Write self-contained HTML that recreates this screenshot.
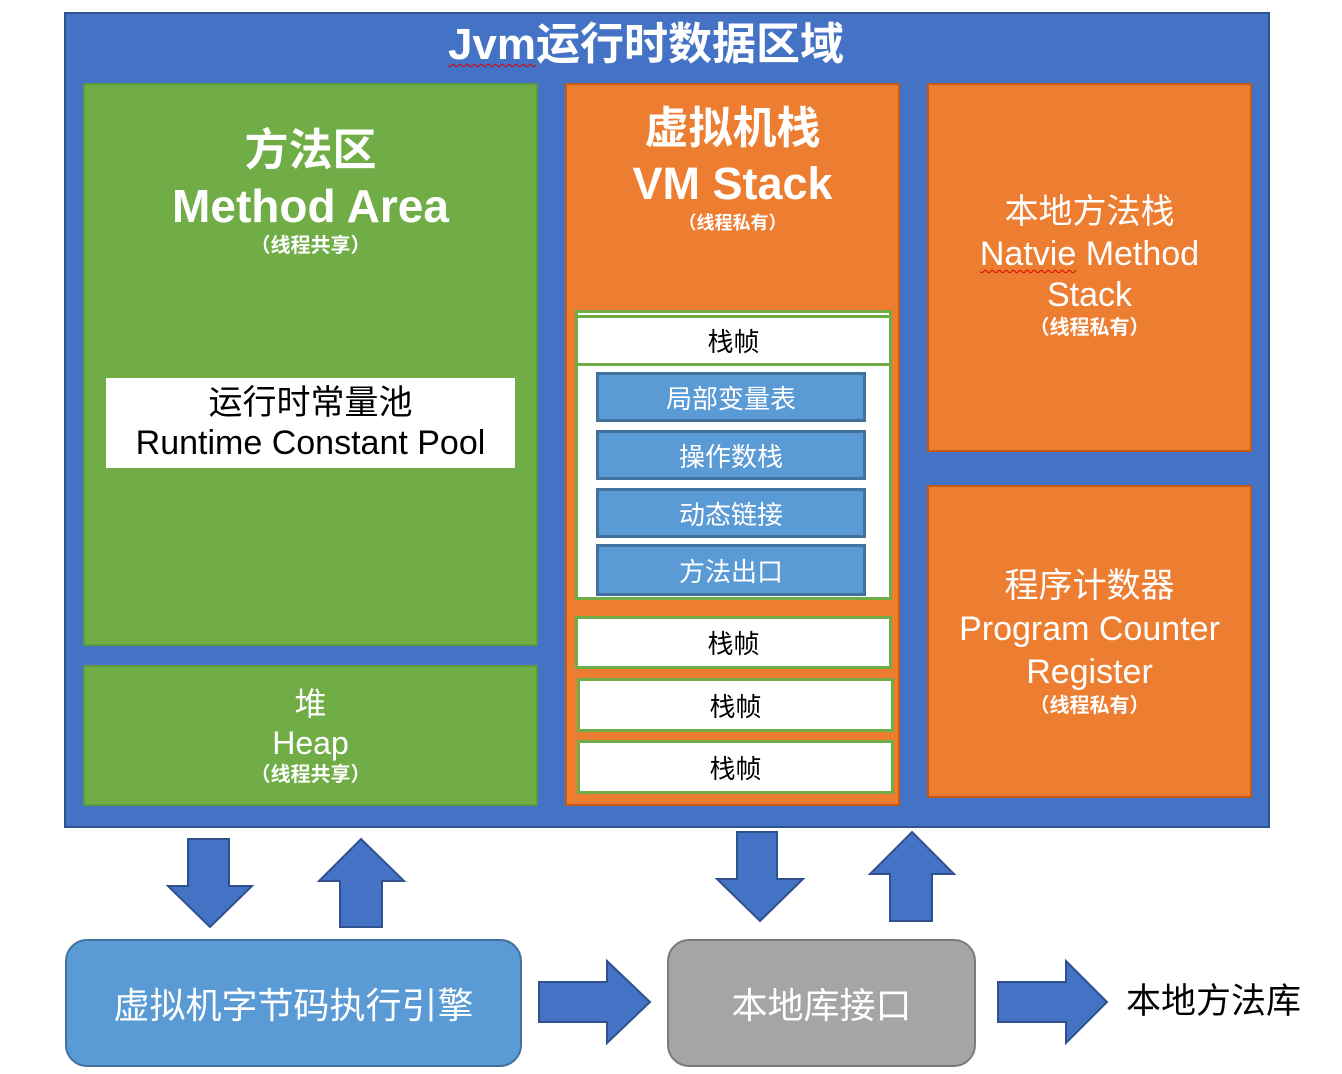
<!DOCTYPE html>
<html><head><meta charset="utf-8"><style>
*{margin:0;padding:0;box-sizing:border-box}
body{width:1342px;height:1074px;background:#fff;position:relative;overflow:hidden;font-family:"Liberation Sans","Noto Sans CJK SC",sans-serif}
.a{position:absolute}
.c{display:flex;flex-direction:column;align-items:center;justify-content:center;text-align:center}
.w{color:#fff}
.sm{font-size:20px;font-weight:bold;line-height:26px}
.frame{background:#fff;border:3px solid #70ad47;font-size:26px;color:#000}
.blue{background:#5b9bd5;border:3px solid #41719c;color:#fff;font-size:26px}
.wv{text-decoration:underline wavy #e00000;text-decoration-thickness:1px;text-underline-offset:4px}
</style></head><body>
<div class="a" style="left:64px;top:12px;width:1206px;height:816px;background:#4472c4;border:2px solid #2f528f"></div>
<div class="a w" style="left:0;top:15px;width:1292px;text-align:center;font-size:44px;font-weight:bold;line-height:60px"><span class="wv">Jvm</span>运行时数据区域</div>

<div class="a c w" style="left:83px;top:83px;width:455px;height:563px;background:#70ad47;border:2px solid #5f9a3a;justify-content:flex-start;padding-top:38px">
<div style="font-size:44px;font-weight:bold;line-height:56px">方法区</div>
<div style="font-size:46px;font-weight:bold;line-height:54px">Method Area</div>
<div class="sm">（线程共享）</div>
</div>
<div class="a c" style="left:106px;top:378px;width:409px;height:90px;background:#fff;font-size:34px;line-height:40px;color:#000">运行时常量池<br>Runtime Constant Pool</div>

<div class="a c w" style="left:83px;top:665px;width:455px;height:141px;background:#70ad47;border:2px solid #5f9a3a">
<div style="font-size:32px;line-height:40px">堆</div>
<div style="font-size:32px;line-height:38px">Heap</div>
<div class="sm">（线程共享）</div>
</div>

<div class="a c w" style="left:565px;top:83px;width:335px;height:723px;background:#ed7d31;border:2px solid #c55a11;justify-content:flex-start;padding-top:16px">
<div style="font-size:44px;font-weight:bold;line-height:56px">虚拟机栈</div>
<div style="font-size:45px;font-weight:bold;line-height:54px">VM Stack</div>
<div style="font-size:18px;font-weight:bold;line-height:24px">（线程私有）</div>
</div>
<div class="a" style="left:575px;top:310px;width:317px;height:290px;background:#fff;border:3px solid #70ad47"></div>
<div class="a c frame" style="left:575px;top:315px;width:317px;height:51px">栈帧</div>
<div class="a c blue" style="left:596px;top:372px;width:270px;height:50px">局部变量表</div>
<div class="a c blue" style="left:596px;top:430px;width:270px;height:50px">操作数栈</div>
<div class="a c blue" style="left:596px;top:488px;width:270px;height:50px">动态链接</div>
<div class="a c blue" style="left:596px;top:544px;width:270px;height:52px">方法出口</div>
<div class="a c frame" style="left:575px;top:616px;width:317px;height:53px">栈帧</div>
<div class="a c frame" style="left:577px;top:678px;width:317px;height:54px">栈帧</div>
<div class="a c frame" style="left:577px;top:740px;width:317px;height:54px">栈帧</div>

<div class="a c w" style="left:927px;top:83px;width:325px;height:369px;background:#ed7d31;border:2px solid #c55a11;justify-content:flex-start;padding-top:106px">
<div style="font-size:34px;line-height:42px">本地方法栈</div>
<div style="font-size:34px;line-height:42px"><span class="wv">Natvie</span> Method</div>
<div style="font-size:34px;line-height:40px">Stack</div>
<div class="sm">（线程私有）</div>
</div>
<div class="a c w" style="left:927px;top:485px;width:325px;height:313px;background:#ed7d31;border:2px solid #c55a11;justify-content:flex-start;padding-top:78px">
<div style="font-size:34px;line-height:42px">程序计数器</div>
<div style="font-size:34px;line-height:44px">Program Counter</div>
<div style="font-size:34px;line-height:42px">Register</div>
<div class="sm">（线程私有）</div>
</div>

<svg class="a" style="left:0;top:0" width="1342" height="1074">
<g fill="#4472c4" stroke="#2f528f" stroke-width="2">
<polygon points="188,839 229,839 229,886 252,886 210,927 168,886 188,886"/>
<polygon points="361,839 404,881 382,881 382,927 340,927 340,881 319,881"/>
<polygon points="737,832 777,832 777,879 803,879 760,921 717,879 737,879"/>
<polygon points="912,832 954,874 932,874 932,921 890,921 890,874 870,874"/>
<polygon points="539,982 607,982 607,961 650,1002 607,1043 607,1022 539,1022"/>
<polygon points="998,982 1066,982 1066,961 1107,1002 1066,1043 1066,1022 998,1022"/>
</g>
</svg>

<div class="a c w" style="left:65px;top:939px;width:457px;height:128px;background:#5b9bd5;border:2px solid #41719c;border-radius:22px;font-size:36px">虚拟机字节码执行引擎</div>
<div class="a c w" style="left:667px;top:939px;width:309px;height:128px;background:#a5a5a5;border:2px solid #7b7b7b;border-radius:22px;font-size:36px">本地库接口</div>
<div class="a" style="left:1126px;top:980px;font-size:35px;line-height:44px;color:#000">本地方法库</div>
</body></html>
